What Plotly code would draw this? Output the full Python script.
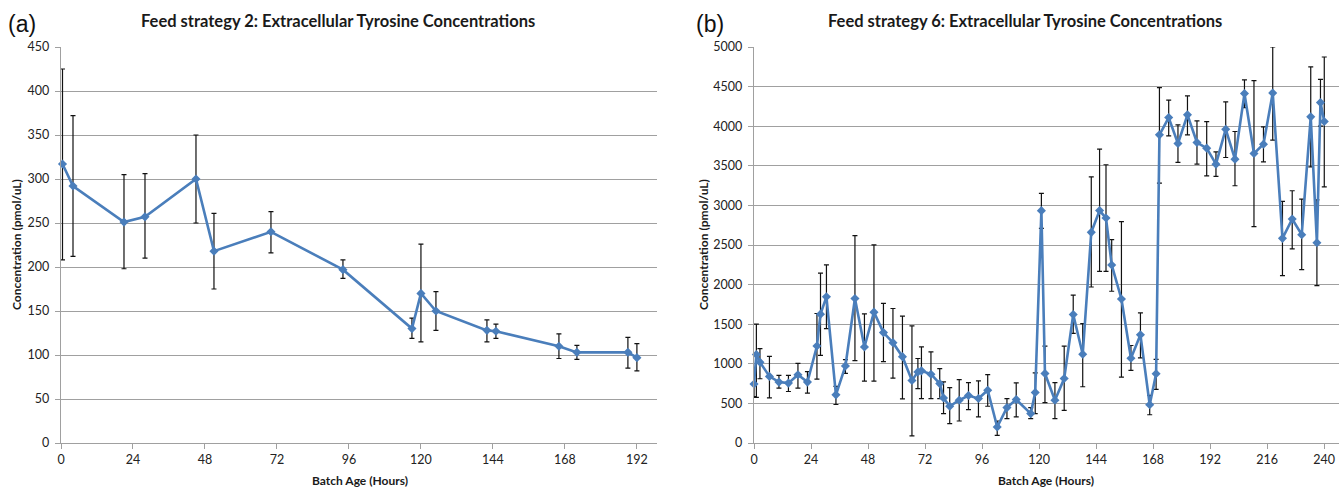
import plotly.graph_objects as go

# ---------------- Panel (a): Feed strategy 2 ----------------
hours_a = [0.5, 4, 21, 28, 45, 51, 70, 94, 117, 120, 125, 142, 145, 166, 172, 189, 192]
conc_a = [317, 292, 251, 257, 300, 218, 240, 197, 130, 170, 150, 128, 127, 110, 103, 103, 97]
upper_a = [425, 372, 305, 306, 350, 261, 263, 208, 142, 226, 172, 140, 135, 124, 111, 120, 113]
lower_a = [208, 212, 198, 210, 250, 175, 216, 187, 119, 115, 128, 115, 119, 96, 95, 85, 82]

# ---------------- Panel (b): Feed strategy 6 ----------------
hours_b = [0, 1, 2.5, 6.5, 10.5, 14.5, 18.5, 22.5, 26.5, 28, 30.5, 34.5, 38.5, 42.5, 46.5,
           50.5, 54.5, 58.5, 62.5, 66.5, 69, 70.5, 74.5, 78.2, 79.8, 82.4, 86.4, 90.3, 94.5,
           98.4, 102.4, 106.5, 110.4, 116.5, 118.4, 121, 122.5, 126.7, 130.6, 134.4, 138.4,
           142, 145.5, 148.2, 150.6, 154.7, 158.7, 162.7, 166.6, 169.3, 170.7, 174.6, 178.5,
           182.5, 186.5, 190.6, 194.5, 198.6, 202.5, 206.5, 210.5, 214.5, 218.4, 222.5,
           226.6, 230.6, 234.4, 237, 238.5, 240.1]
conc_b = [745, 1118, 1021, 841, 769, 756, 862, 769, 1225, 1627, 1846, 608, 972, 1825, 1212,
          1652, 1394, 1267, 1090, 790, 898, 911, 869, 750, 569, 464, 540, 599, 561,
          666, 202, 447, 548, 371, 637, 2934, 877, 540, 814, 1623, 1120,
          2660, 2935, 2840, 2248, 1819, 1071, 1366, 483, 874, 3891, 4109, 3782,
          4143, 3794, 3723, 3521, 3962, 3584, 4412, 3655, 3773, 4420, 2584,
          2828, 2630, 4118, 2529, 4298, 4059]
upper_b = [905, 1500, 1191, 1094, 853, 853, 1005, 900, 1635, 2146, 2248, 714, 1052, 2619, 1631,
           2501, 1762, 1698, 1601, 1480, 1067, 1214, 1151, 940, 771, 700, 801, 763, 784,
           864, 278, 561, 759, 447, 885, 3153, 1223, 763, 1223, 1868, 1507,
           3360, 3710, 3513, 2567, 2794, 1231, 1643, 601, 1055, 4487, 4328, 4017,
           4382, 4067, 4059, 3676, 4307, 3933, 4584, 4576, 3992, 5000, 3050,
           3185, 3080, 4748, 3070, 4592, 4874]
lower_b = [585, 577, 811, 570, 693, 650, 693, 630, 807, 1107, 1445, 486, 879, 1039, 781,
           781, 1027, 820, 558, 89, 687, 561, 561, 560, 371, 245, 278, 422, 329,
           464, 97, 308, 329, 308, 371, 2711, 510, 308, 413, 1383, 710,
           1970, 2168, 2168, 1916, 832, 916, 1076, 357, 676, 3282, 3878, 3542,
           3891, 3521, 3374, 3366, 3605, 3248, 4235, 2731, 3550, 3824, 2113,
           2450, 2189, 3487, 1987, 4000, 3235]

ticks_a_x = [0, 24, 48, 72, 96, 120, 144, 168, 192]
ticks_b_x = [0, 24, 48, 72, 96, 120, 144, 168, 192, 216, 240]
ticks_a_y = list(range(0, 451, 50))
ticks_b_y = list(range(0, 5001, 500))

title_a = "Feed strategy 2: Extracellular Tyrosine Concentrations"
title_b = "Feed strategy 6: Extracellular Tyrosine Concentrations"
xlabel = "Batch Age (Hours)"
ylabel = "Concentration (pmol/uL)"

LINE = "#4a7ebb"
GRID = "#a0a0a0"
FONT = "Lato, 'Open Sans', sans-serif"


def trace(x, y, up, lo, xa, ya):
    return go.Scatter(
        x=x, y=y, xaxis=xa, yaxis=ya, mode="lines+markers",
        line=dict(color=LINE, width=2.6),
        marker=dict(symbol="diamond", size=7, color=LINE),
        error_y=dict(type="data", symmetric=False,
                     array=[u - v for u, v in zip(up, y)],
                     arrayminus=[v - l for v, l in zip(y, lo)],
                     color="#111111", thickness=1.2, width=2.5),
        cliponaxis=False, showlegend=False, hoverinfo="x+y",
    )


fig = go.Figure()
fig.add_trace(trace(hours_a, conc_a, upper_a, lower_a, "x", "y"))
fig.add_trace(trace(hours_b, conc_b, upper_b, lower_b, "x2", "y2"))

W, H = 1339, 488
ml, mr, mt, mb = 61, 0, 47, 45
pw = W - ml - mr
ph = H - mt - mb


def dom(x0, x1):
    return [(x0 - ml) / pw, (x1 - ml) / pw]


common_x = dict(showgrid=False, showline=True, linecolor=GRID, linewidth=1.3,
                ticks="outside", ticklen=5, tickcolor=GRID, zeroline=False,
                tickfont=dict(family=FONT, size=12.5, color="#222222"))
common_y = dict(showgrid=True, gridcolor=GRID, gridwidth=1.3, showline=True,
                linecolor=GRID, linewidth=1.3, ticks="outside", ticklen=5,
                tickcolor=GRID, zeroline=False, ticklabelstandoff=3,
                tickfont=dict(family=FONT, size=12.5, color="#222222"))

fig.update_layout(
    width=W, height=H, margin=dict(l=ml, r=mr, t=mt, b=mb),
    paper_bgcolor="white", plot_bgcolor="white",
    xaxis=dict(domain=dom(61, 657), range=[0, 198.7], tickvals=ticks_a_x, anchor="y", **common_x),
    yaxis=dict(range=[0, 450], tickvals=ticks_a_y, anchor="x", **common_y),
    xaxis2=dict(domain=dom(754, 1339), range=[0, 246.3], tickvals=ticks_b_x, anchor="y2", **common_x),
    yaxis2=dict(range=[0, 5000], tickvals=ticks_b_y, anchor="x2", **common_y),
)


def pos(px, py):
    # pixel position -> coordinates relative to the plotting area (paper refs)
    return (px - ml) / pw, 1 - (py - mt) / ph


annotations = []
for txt, x in [("(a)", 6), ("(b)", 694)]:
    ax, ay = pos(x, 24)
    annotations.append(dict(text=txt, x=ax, y=ay, xref="paper", yref="paper",
                            xanchor="left", yanchor="middle", showarrow=False,
                            font=dict(family="Liberation Sans, Arial, sans-serif", size=23, color="#111111")))
for txt, cx in [(title_a, 338), (title_b, 1025)]:
    ax, ay = pos(cx, 21)
    annotations.append(dict(text="<b>%s</b>" % txt, x=ax, y=ay, xref="paper", yref="paper",
                            xanchor="center", yanchor="middle", showarrow=False,
                            font=dict(family=FONT, size=16.5, color="#1a1a1a")))
for cx in [360, 1046]:
    ax, ay = pos(cx, 480)
    annotations.append(dict(text="<b>%s</b>" % xlabel, x=ax, y=ay, xref="paper", yref="paper",
                            xanchor="center", yanchor="middle", showarrow=False,
                            font=dict(family=FONT, size=12, color="#1a1a1a")))
for cx in [16, 703]:
    ax, ay = pos(cx, 245)
    annotations.append(dict(text="<b>%s</b>" % ylabel, x=ax, y=ay, xref="paper", yref="paper",
                            xanchor="center", yanchor="middle", textangle=-90, showarrow=False,
                            font=dict(family=FONT, size=12, color="#1a1a1a")))

fig.update_layout(annotations=annotations)
fig.write_html("out.html")
